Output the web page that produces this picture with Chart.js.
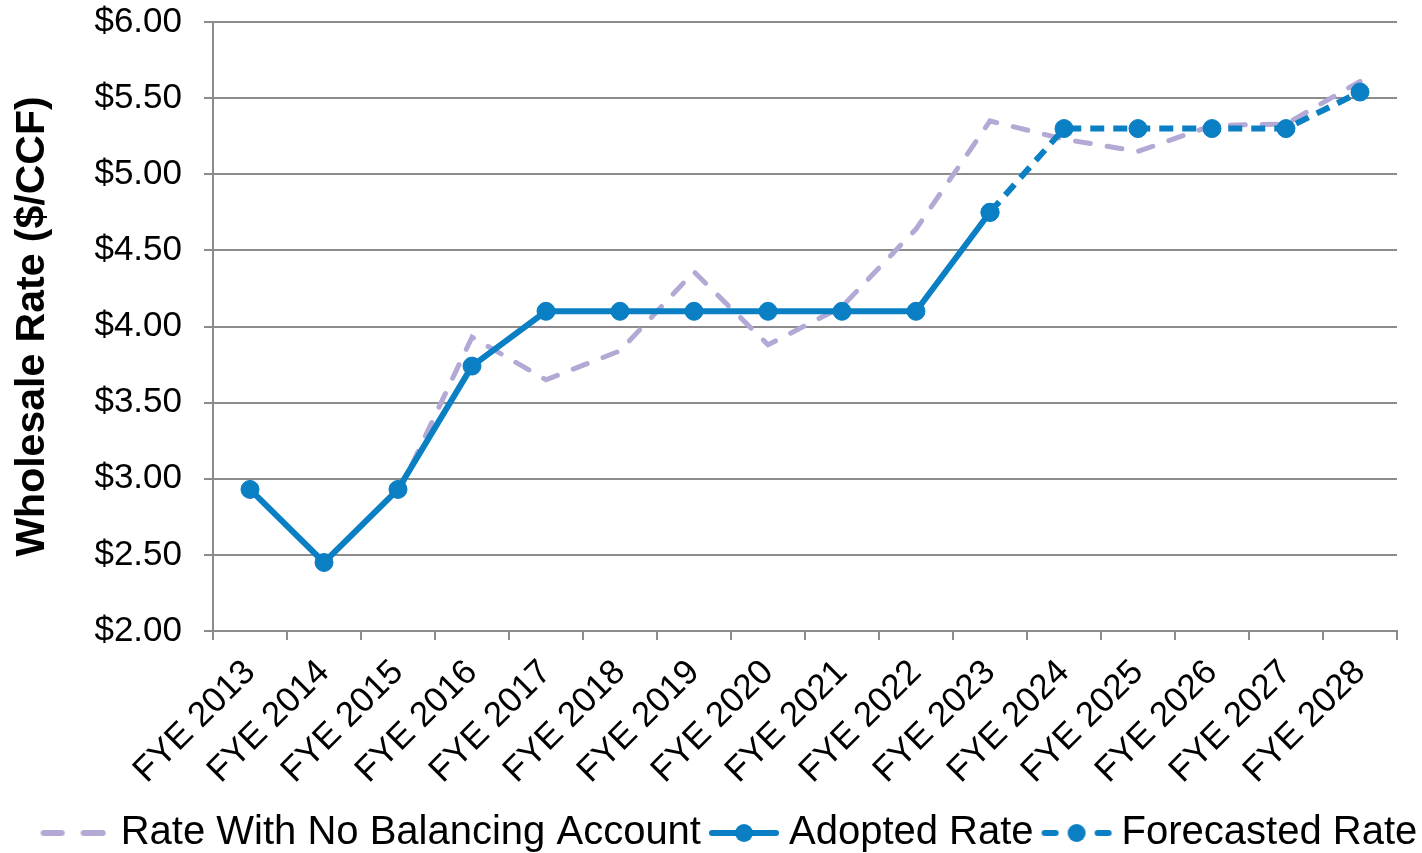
<!DOCTYPE html>
<html>
<head>
<meta charset="utf-8">
<script src="https://cdn.jsdelivr.net/npm/chart.js@4.4.1/dist/chart.umd.min.js"></script>
<style>
  html, body { margin: 0; padding: 0; background: #fff; }
  #wrap { width: 1422px; height: 853px; }
</style>
</head>
<body>
<div id="wrap"><canvas id="rateChart"></canvas></div>
<script>
// chart data
const categories = ['FYE 2013', 'FYE 2014', 'FYE 2015', 'FYE 2016', 'FYE 2017', 'FYE 2018', 'FYE 2019', 'FYE 2020',
                    'FYE 2021', 'FYE 2022', 'FYE 2023', 'FYE 2024', 'FYE 2025', 'FYE 2026', 'FYE 2027', 'FYE 2028'];
const noBalancingRate = [null, null, 2.90, 3.93, 3.65, 3.84, 4.36, 3.88, 4.13, 4.64, 5.35, 5.23, 5.15, 5.32, 5.33, 5.61];
const adoptedRate = [2.93, 2.45, 2.93, 3.74, 4.10, 4.10, 4.10, 4.10, 4.10, 4.10, 4.75, null, null, null, null, null];
const forecastRate = [null, null, null, null, null, null, null, null, null, null, 4.75, 5.30, 5.30, 5.30, 5.30, 5.54];
const yTickValues = [2.0, 2.5, 3.0, 3.5, 4.0, 4.5, 5.0, 5.5, 6.0];

const BLUE = '#0a7fc3';
const LAVENDER = '#b4a9d5';
const GRID = '#8c8c8c';
const FONT = "'Liberation Sans', Arial, sans-serif";

// legend symbols (line + marker) drawn into small canvases
function legendSymbol(kind) {
    const c = document.createElement('canvas');
    c.width = 104; c.height = 24;
    const g = c.getContext('2d');
    const x0 = 24, x1 = 94, y = 12;
    g.lineWidth = 6;
    g.lineCap = 'round';
    if (kind === 'noBal') {
        g.strokeStyle = LAVENDER;
        g.beginPath(); g.moveTo(x0 + 3, y); g.lineTo(x0 + 21, y); g.stroke();
        g.beginPath(); g.moveTo(x0 + 43, y); g.lineTo(x0 + 62, y); g.stroke();
    } else if (kind === 'adopted') {
        g.strokeStyle = BLUE;
        g.beginPath(); g.moveTo(x0 + 3, y); g.lineTo(x1 - 3, y); g.stroke();
        g.fillStyle = BLUE; g.beginPath(); g.arc((x0 + x1) / 2, y, 9, 0, Math.PI * 2); g.fill();
    } else {
        g.strokeStyle = BLUE;
        g.beginPath(); g.moveTo(x0 + 3, y); g.lineTo(x0 + 14, y); g.stroke();
        g.beginPath(); g.moveTo(x1 - 14, y); g.lineTo(x1 - 3, y); g.stroke();
        g.fillStyle = BLUE; g.beginPath(); g.arc((x0 + x1) / 2, y, 9, 0, Math.PI * 2); g.fill();
    }
    return c;
}
const legendIcons = [legendSymbol('noBal'), legendSymbol('adopted'), legendSymbol('forecast')];

const ctx = document.getElementById('rateChart').getContext('2d');
new Chart(ctx, {
    type: 'line',
    data: {
        labels: categories,
        datasets: [
            {
                label: 'Rate With No Balancing Account',
                data: noBalancingRate,
                borderColor: LAVENDER,
                backgroundColor: LAVENDER,
                borderWidth: 5,
                borderDash: [15, 17],
                borderCapStyle: 'round',
                pointRadius: 0,
                tension: 0,
                order: 3
            },
            {
                label: 'Adopted Rate',
                data: adoptedRate,
                borderColor: BLUE,
                backgroundColor: BLUE,
                borderWidth: 6,
                pointRadius: 9,
                pointBorderWidth: 1,
                pointBackgroundColor: BLUE,
                tension: 0,
                order: 1
            },
            {
                label: 'Forecasted Rate',
                data: forecastRate,
                borderColor: BLUE,
                backgroundColor: BLUE,
                borderWidth: 6,
                borderDash: [14, 9],
                pointRadius: 9,
                pointBorderWidth: 1,
                pointBackgroundColor: BLUE,
                tension: 0,
                order: 2
            }
        ]
    },
    options: {
        responsive: true,
        maintainAspectRatio: false,
        animation: false,
        devicePixelRatio: 1,
        layout: { padding: { left: 32, right: 0, top: 22, bottom: -10 } },
        plugins: {
            tooltip: { enabled: false },
            legend: {
                position: 'bottom',
                labels: {
                    usePointStyle: true,
                    pointStyleWidth: 64,
                    boxHeight: 24,
                    padding: 4,
                    color: '#000',
                    font: { family: FONT, size: 40 },
                    sort: (a, b) => a.datasetIndex - b.datasetIndex,
                    generateLabels: chart => {
                        const items = Chart.defaults.plugins.legend.labels.generateLabels(chart);
                        items.forEach(it => { it.pointStyle = legendIcons[it.datasetIndex]; });
                        return items;
                    }
                }
            }
        },
        scales: {
            x: {
                offset: true,
                grid: { offset: true, drawOnChartArea: false, color: GRID, lineWidth: 2, tickLength: 9 },
                border: { color: GRID, width: 2 },
                ticks: { color: '#000', font: { family: FONT, size: 35 }, maxRotation: 45, minRotation: 45, padding: 12 },
                afterFit: s => { s.height = 178; }
            },
            y: {
                min: 2,
                max: 6,
                afterBuildTicks: s => { s.ticks = yTickValues.map(v => ({ value: v })); },
                grid: { color: GRID, lineWidth: 2, tickLength: 9 },
                border: { color: GRID, width: 2 },
                ticks: {
                    color: '#000',
                    font: { family: FONT, size: 35 },
                    padding: 22,
                    callback: v => '$' + Number(v).toFixed(2)
                },
                title: {
                    display: true,
                    text: 'Wholesale Rate ($/CCF)',
                    color: '#000',
                    font: { family: FONT, size: 41, weight: 'bold' },
                    padding: { top: -24, bottom: 0 }
                },
                afterFit: s => { s.width = 181; s.paddingTop = 0; s.paddingBottom = 0; }
            },
            // empty right-hand axis, only reserves the margin right of the plot
            yRight: {
                position: 'right',
                display: true,
                grid: { display: false },
                border: { display: false },
                ticks: { display: false },
                afterFit: s => { s.width = 25; }
            }
        }
    }
});
</script>
</body>
</html>
